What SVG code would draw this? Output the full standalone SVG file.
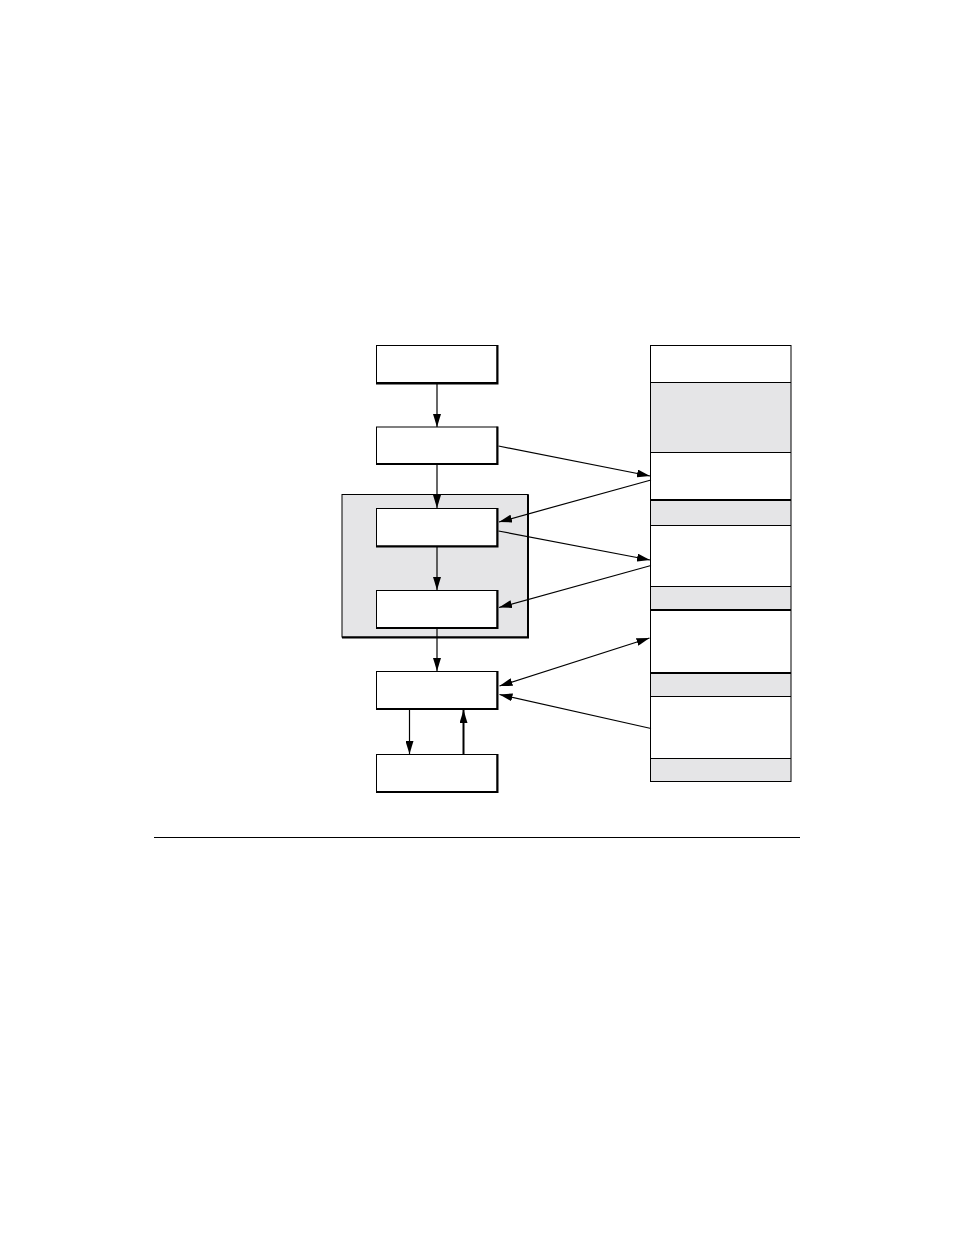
<svg xmlns="http://www.w3.org/2000/svg" width="954" height="1235" viewBox="0 0 954 1235">
<style>
.box{fill:#fff;stroke:#000;stroke-width:1}
.sh{fill:none;stroke:#000;stroke-width:2}
.gray{fill:#e5e5e7}
.ln{fill:none;stroke:#000;stroke-width:1}
.thk{fill:none;stroke:#000;stroke-width:2}
.con{fill:none;stroke:#000;stroke-width:1.2}
</style>
<defs>
<marker id="ah" viewBox="0 0 13 8" refX="13" refY="4" markerWidth="13" markerHeight="8" markerUnits="userSpaceOnUse" orient="auto-start-reverse">
<path d="M0,0 L13,4 L0,8 Z" fill="#000"/>
</marker>
</defs>
<rect width="954" height="1235" fill="#fff"/>
<g id="group">
<rect x="342" y="494.5" width="186" height="142.5" fill="#e5e5e7" stroke="#000" stroke-width="1"/>
<polyline class="sh" points="528,494.5 528,637.5 342,637.5"/>
</g>
<g id="n1"><rect class="box" x="376.5" y="345.5" width="120.5" height="37"/><polyline class="sh" points="497.5,345 497.5,383.5 376,383.5"/></g>
<g id="n2"><rect class="box" x="376.5" y="427" width="120.5" height="37"/><polyline class="sh" points="497.5,426.5 497.5,464 376,464"/></g>
<g id="n3"><rect class="box" x="376.5" y="508.5" width="120.5" height="37.5"/><polyline class="sh" points="497.5,508 497.5,546.5 376,546.5"/></g>
<g id="n4"><rect class="box" x="376.5" y="590.5" width="120.5" height="37"/><polyline class="sh" points="497.5,590 497.5,628 376,628"/></g>
<g id="n5"><rect class="box" x="376.5" y="671.5" width="120.5" height="37"/><polyline class="sh" points="497.5,671 497.5,709 376,709"/></g>
<g id="n6"><rect class="box" x="376.5" y="754.5" width="120.5" height="37"/><polyline class="sh" points="497.5,754 497.5,792 376,792"/></g>
<g id="column">
<rect x="650.5" y="345.5" width="140.5" height="436" fill="#fff" stroke="none"/>
<rect class="gray" x="650.5" y="382.5" width="140.5" height="70"/>
<rect class="gray" x="650.5" y="500" width="140.5" height="25"/>
<rect class="gray" x="650.5" y="586.5" width="140.5" height="23.5"/>
<rect class="gray" x="650.5" y="673" width="140.5" height="23"/>
<rect class="gray" x="650.5" y="758.5" width="140.5" height="23"/>
<line class="ln" x1="650.5" y1="382.5" x2="791" y2="382.5"/>
<line class="ln" x1="650.5" y1="452.5" x2="791" y2="452.5"/>
<line class="thk" x1="650.5" y1="500" x2="791" y2="500"/>
<line class="ln" x1="650.5" y1="525.5" x2="791" y2="525.5"/>
<line class="ln" x1="650.5" y1="586.5" x2="791" y2="586.5"/>
<line class="thk" x1="650.5" y1="610" x2="791" y2="610"/>
<line class="thk" x1="650.5" y1="673" x2="791" y2="673"/>
<line class="ln" x1="650.5" y1="696.5" x2="791" y2="696.5"/>
<line class="ln" x1="650.5" y1="758.5" x2="791" y2="758.5"/>
<rect x="650.5" y="345.5" width="140.5" height="436" fill="none" stroke="#000" stroke-width="1"/>
</g>
<g id="connectors">
<line class="con" x1="437" y1="384" x2="437" y2="427" marker-end="url(#ah)"/>
<line class="con" x1="437" y1="465" x2="437" y2="508" marker-end="url(#ah)"/>
<line class="con" x1="437" y1="547" x2="437" y2="590" marker-end="url(#ah)"/>
<line class="con" x1="437" y1="629" x2="437" y2="671" marker-end="url(#ah)"/>
<line class="con" x1="409.5" y1="710" x2="409.5" y2="754" marker-end="url(#ah)"/>
<line x1="463.5" y1="755" x2="463.5" y2="710" stroke="#000" stroke-width="2" marker-end="url(#ah)"/>
<line class="con" x1="498.5" y1="446" x2="650" y2="476" marker-end="url(#ah)"/>
<line class="con" x1="651" y1="480" x2="499" y2="522" marker-end="url(#ah)"/>
<line class="con" x1="498.5" y1="531" x2="650" y2="560" marker-end="url(#ah)"/>
<line class="con" x1="651" y1="565.5" x2="499" y2="607.5" marker-end="url(#ah)"/>
<line class="con" x1="499.5" y1="686" x2="649.5" y2="638" marker-start="url(#ah)" marker-end="url(#ah)"/>
<line class="con" x1="651" y1="728.5" x2="499.5" y2="694.5" marker-end="url(#ah)"/>
</g>
<line x1="154" y1="837.5" x2="800" y2="837.5" stroke="#000" stroke-width="1"/>
</svg>
